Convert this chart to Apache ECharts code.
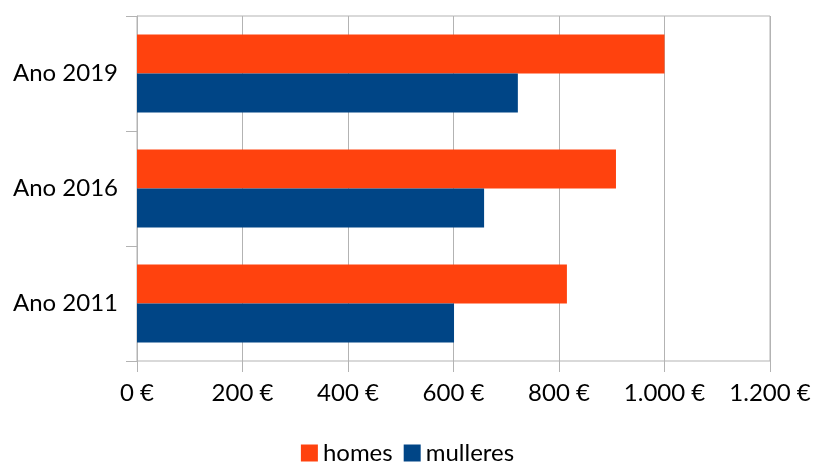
<!DOCTYPE html>
<html>
<head>
<meta charset="utf-8">
<script src="https://cdn.jsdelivr.net/npm/echarts@6/dist/echarts.min.js"></script>
<style>
  html, body { margin: 0; padding: 0; background: #fff; }
  #chart { width: 815px; height: 463px; }
</style>
</head>
<body>
<div id="chart"></div>
<script>
var anos = ['Ano 2011', 'Ano 2016', 'Ano 2019']
var homes = [815, 908, 1000]
var mulleres = [601, 658, 722]
var xTicks = [0, 200, 400, 600, 800, 1000, 1200]

function euro(v) {
  // separador de miles ao estilo galego: 1.000 €
  return String(v).replace(/\B(?=(\d{3})+(?!\d))/g, '.') + ' €'
}

var myChart = echarts.init(document.getElementById('chart'))
var font = 'Lato, "DejaVu Sans", sans-serif'
var option = {
  animation: false,
  textStyle: { fontFamily: font },
  legend: {
    data: ['homes', 'mulleres'],
    top: 436,
    left: 'center',
    itemWidth: 17,
    itemHeight: 17,
    itemGap: 11,
    icon: 'rect',
    textStyle: { fontSize: 24, color: '#000', fontFamily: font }
  },
  grid: {
    left: 137,
    right: 45,
    top: 16,
    bottom: 102,
    show: true,
    borderColor: '#b3b3b3',
    borderWidth: 1
  },
  xAxis: {
    type: 'value',
    min: 0,
    max: xTicks[xTicks.length - 1],
    interval: 200,
    axisLine: { show: false },
    axisTick: { show: true, length: 11, lineStyle: { color: '#b3b3b3' } },
    splitLine: { show: true, lineStyle: { color: '#b3b3b3' } },
    axisLabel: {
      fontSize: 24,
      color: '#000',
      margin: 20,
      fontFamily: font,
      formatter: function (v) { return euro(v) }
    }
  },
  yAxis: {
    type: 'category',
    data: anos,
    axisLine: { show: true, lineStyle: { color: '#b3b3b3' } },
    axisTick: { show: true, length: 11, lineStyle: { color: '#b3b3b3' } },
    axisLabel: { fontSize: 24, color: '#000', margin: 19, fontFamily: font }
  },
  series: [
    {
      name: 'homes',
      type: 'bar',
      data: homes,
      barGap: '0%',
      barCategoryGap: '32%',
      itemStyle: { color: '#ff420e' }
    },
    {
      name: 'mulleres',
      type: 'bar',
      data: mulleres,
      barGap: '0%',
      barCategoryGap: '32%',
      itemStyle: { color: '#004586' }
    }
  ]
}
myChart.setOption(option)
</script>
</body>
</html>
